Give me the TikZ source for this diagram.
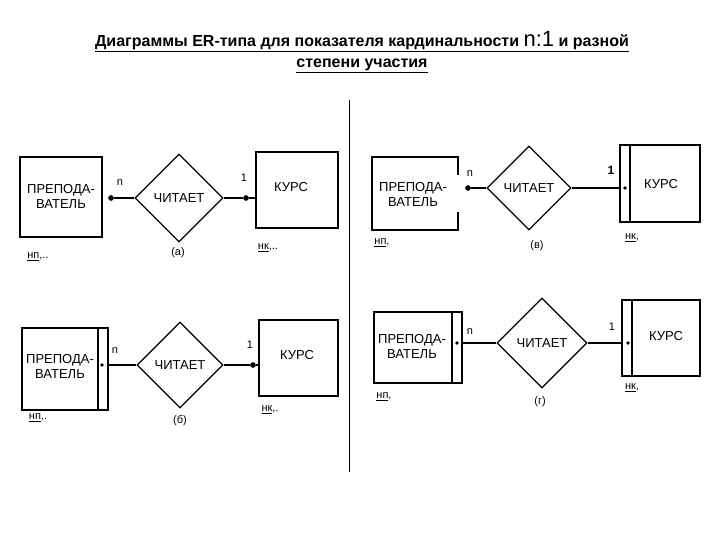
\documentclass[tikz,border=0pt]{standalone}
\usepackage{fontspec}
\setmainfont{Liberation Sans}
\usetikzlibrary{shapes.geometric}
\begin{document}
\begin{tikzpicture}[x=1pt,y=-1pt,
 ent/.style={draw,line width=1.2pt},
 rel/.style={draw,diamond,aspect=1,line width=1.2pt,inner sep=0pt,font=\fontsize{13}{14}\selectfont},
 lbl/.style={font=\fontsize{13}{15}\selectfont,align=center},
 sm/.style={font=\fontsize{11}{12}\selectfont},
 dotc/.style={circle,fill,inner sep=2pt},
 ln/.style={line width=1.5pt}]
\useasboundingbox (0,0) rectangle (720,540);
\node[font=\bfseries\fontsize{16}{18}\selectfont] (t1) at (362,42) {\underline{Диаграммы ER-типа для показателя кардинальности {\fontsize{22}{22}\selectfont\mdseries n:1} и разной}};
\node[font=\bfseries\fontsize{16}{18}\selectfont] (t2) at (362,66) {\underline{степени участия}};
\draw[line width=1pt] (349,100) -- (349,472);
% (a)
\draw[ent] (20,157) rectangle (102,237);
\node[lbl] (pa) at (61,197) {ПРЕПОДА-\\ВАТЕЛЬ};
\node[dotc] (da) at (111,198) {};
\node[sm] at (120,183) {n};
\node[rel,minimum width=88pt,minimum height=88pt] (ra) at (179,198) {ЧИТАЕТ};
\draw[ln] (da) -- (ra.west);
\node[dotc] (ea) at (246,198) {};
\draw[ln] (ra.east) -- (ea) -- (256,198);
\draw[ent] (256,152) rectangle (338,228);
\node[lbl] (ka) at (291,187) {КУРС};
\node[sm] at (244,178) {1};
\node[sm] at (178,253) {(а)};
\node[sm] at (38,257) {\underline{нп},..};
\node[sm] at (268,248) {\underline{нк},..};
% (б)
\draw[ent] (22,328) rectangle (108,410);
\draw[ent] (98,328) -- (98,410);
\node[lbl] (pb) at (60,367) {ПРЕПОДА-\\ВАТЕЛЬ};
\node[dotc,inner sep=1.3pt] (db) at (102,365) {};
\node[sm] at (115,351) {n};
\node[rel,minimum width=86pt,minimum height=86pt] (rb) at (180,365) {ЧИТАЕТ};
\draw[ln] (108,365) -- (rb.west);
\node[dotc] (eb) at (253,365) {};
\draw[ln] (rb.east) -- (eb) -- (259,365);
\draw[ent] (259,320) rectangle (338,396);
\node[lbl] at (297,355) {КУРС};
\node[sm] at (250,345) {1};
\node[sm] at (180,421) {(б)};
\node[sm] at (38,418) {\underline{нп},.};
\node[sm] at (270,410) {\underline{нк},.};
% (в)
\draw[ent] (458,175) -- (458,157) -- (372,157) -- (372,230) -- (458,230) -- (458,212);
\node[lbl] at (413,195) {ПРЕПОДА-\\ВАТЕЛЬ};
\node[dotc] (dv) at (468,188) {};
\node[sm] at (470,174) {n};
\node[rel,minimum width=84pt,minimum height=84pt] (rv) at (529,188) {ЧИТАЕТ};
\draw[ln] (dv) -- (rv.west);
\draw[ent] (620,145) rectangle (700,222);
\draw[ent] (630,145) -- (630,222);
\draw[ln] (rv.east) -- (620,188);
\node[dotc,inner sep=1.3pt] (ev) at (625,188) {};
\node[lbl] at (661,184) {КУРС};
\node[font=\bfseries\fontsize{12}{13}\selectfont] at (611,170) {1};
\node[sm] at (537,246) {(в)};
\node[sm] at (382,243) {\underline{нп},};
\node[sm] at (632,238) {\underline{нк},};
% (г)
\draw[ent] (374,312) rectangle (462,383);
\draw[ent] (452,312) -- (452,383);
\node[lbl] at (412,347) {ПРЕПОДА-\\ВАТЕЛЬ};
\node[dotc,inner sep=1.3pt] (dg) at (457,343) {};
\node[sm] at (470,332) {n};
\node[rel,minimum width=90pt,minimum height=90pt] (rg) at (542,343) {ЧИТАЕТ};
\draw[ln] (462,343) -- (rg.west);
\draw[ent] (622,300) rectangle (700,376);
\draw[ent] (632,300) -- (632,376);
\draw[ln] (rg.east) -- (622,343);
\node[dotc,inner sep=1.3pt] (eg) at (628,343) {};
\node[lbl] at (666,336) {КУРС};
\node[sm] at (612,327) {1};
\node[sm] at (540,402) {(г)};
\node[sm] at (384,397) {\underline{нп},};
\node[sm] at (632,388) {\underline{нк},};
\end{tikzpicture}
\end{document}
